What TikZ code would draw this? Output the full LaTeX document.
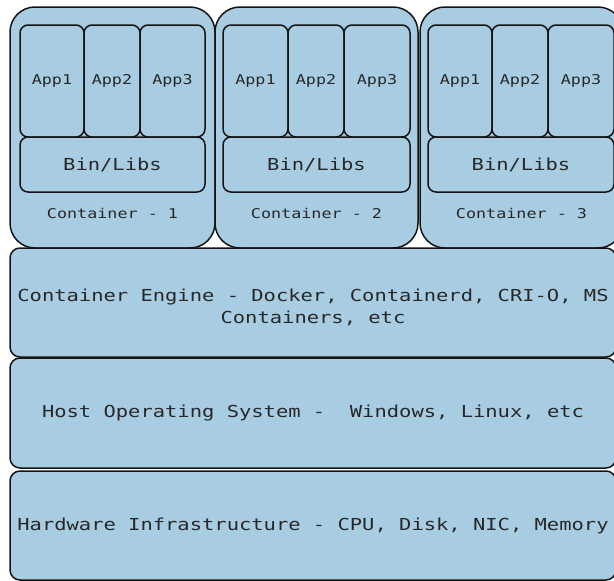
\documentclass[tikz,border=0pt]{standalone}
\usepackage{fontspec}
\newfontfamily\monofont[FakeStretch=1.24]{DejaVu Sans Mono}
\definecolor{boxfill}{RGB}{168,205,226}
\definecolor{boxline}{RGB}{20,20,20}
\definecolor{txt}{RGB}{40,40,40}
\begin{document}
\begin{tikzpicture}[x=1pt,y=-1pt,
  base/.style={draw=boxline, fill=boxfill, line width=1.5pt, inner sep=0pt, outer sep=0pt, text=txt},
  cont/.style={base, rounded corners=25pt},
  ibox/.style={base, rounded corners=8pt},
  layer/.style={base, rounded corners=10pt},
  bigtxt/.style={font=\monofont\fontsize{16.5}{22}\selectfont},
  smalltxt/.style={font=\monofont\fontsize{13.5}{16}\selectfont},
  lbl/.style={text=txt, inner sep=0pt}]
\useasboundingbox[fill=white] (0,0) rectangle (614,581);

% containers
\node[cont, minimum width=205pt, minimum height=241pt] (c1) at (112.5,127.5) {};
\node[cont, minimum width=203pt, minimum height=241pt] (c2) at (316.5,127.5) {};
\node[cont, minimum width=203pt, minimum height=241pt] (c3) at (521.5,127.5) {};

% container 1
\node[ibox, smalltxt, minimum width=64pt, minimum height=112pt] (c1a1) at (52,81) {App1};
\node[ibox, smalltxt, minimum width=56pt, minimum height=112pt] (c1a2) at (112,81) {App2};
\node[ibox, smalltxt, minimum width=65pt, minimum height=112pt] (c1a3) at (172.5,81) {App3};
\node[ibox, bigtxt, minimum width=185pt, minimum height=55pt] (c1b) at (112.5,164.5) {Bin/Libs};
\node[lbl, smalltxt] (c1l) at (112.5,213) {Container - 1};

% container 2
\node[ibox, smalltxt, minimum width=65pt, minimum height=112pt] (c2a1) at (255.5,81) {App1};
\node[ibox, smalltxt, minimum width=56pt, minimum height=112pt] (c2a2) at (316,81) {App2};
\node[ibox, smalltxt, minimum width=66pt, minimum height=112pt] (c2a3) at (377,81) {App3};
\node[ibox, bigtxt, minimum width=187pt, minimum height=55pt] (c2b) at (316.5,164.5) {Bin/Libs};
\node[lbl, smalltxt] (c2l) at (316.5,213) {Container - 2};

% container 3
\node[ibox, smalltxt, minimum width=64pt, minimum height=112pt] (c3a1) at (460,81) {App1};
\node[ibox, smalltxt, minimum width=56pt, minimum height=112pt] (c3a2) at (520,81) {App2};
\node[ibox, smalltxt, minimum width=66pt, minimum height=112pt] (c3a3) at (581,81) {App3};
\node[ibox, bigtxt, minimum width=186pt, minimum height=55pt] (c3b) at (521,164.5) {Bin/Libs};
\node[lbl, smalltxt] (c3l) at (521.5,213) {Container - 3};

% layers
\node[layer, minimum width=606pt, minimum height=109pt] (ce) at (313,302.5) {};
\node[lbl, bigtxt, align=center] (cet) at (313,307) {Container Engine - Docker, Containerd, CRI-O, MS\\Containers, etc};
\node[layer, bigtxt, minimum width=606pt, minimum height=110pt] (host) at (313,413) {Host Operating System -\ \ Windows, Linux, etc};
\node[layer, bigtxt, minimum width=606pt, minimum height=109pt] (hw) at (313,525.5) {Hardware Infrastructure - CPU, Disk, NIC, Memory};
\end{tikzpicture}
\end{document}
